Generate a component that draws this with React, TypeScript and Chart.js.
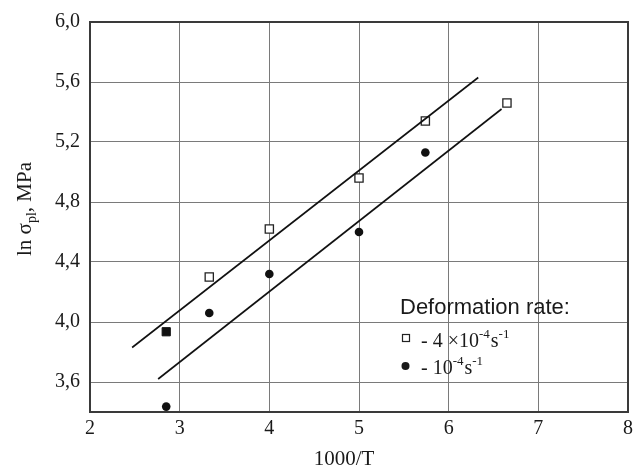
import { useEffect, useRef } from "react";
import { Chart, registerables } from "chart.js";

Chart.register(...registerables);

// ---- data ----
const xTicks = [2, 3, 4, 5, 6, 7, 8];
const yTicks = [3.6, 4.0, 4.4, 4.8, 5.2, 5.6, 6.0];

const openSquareX = [3.33, 4.0, 5.0, 5.74, 6.65];
const openSquareY = [4.30, 4.62, 4.96, 5.34, 5.46];

const filledSquareX = [2.85];
const filledSquareY = [3.935];

const circleX = [2.85, 3.33, 4.0, 5.0, 5.74];
const circleY = [3.436, 4.06, 4.32, 4.60, 5.13];

const upperFitX = [2.47, 6.33];
const upperFitY = [3.83, 5.63];
const lowerFitX = [2.76, 6.59];
const lowerFitY = [3.62, 5.42];

const legendTitle = "Deformation rate:";
// alternating normal / superscript runs
const legendRate1 = ["- 4 \u00d710", "-4", "s", "-1"];
const legendRate2 = ["- 10", "-4", "s", "-1"];

const xTitle = "1000/T";
const yTitleParts = ["ln \u03c3", "pl", ", MPa"];

const SERIF = '"Liberation Serif", "Times New Roman", serif';
const SANS = '"Liberation Sans", Arial, sans-serif';

const pts = (xs: number[], ys: number[]) => xs.map((x, i) => ({ x, y: ys[i] }));

const decorPlugin = {
  id: "decor",
  beforeDraw(chart: any) {
    const ctx = chart.ctx;
    ctx.save();
    ctx.fillStyle = "#ffffff";
    ctx.fillRect(0, 0, chart.width, chart.height);
    ctx.restore();
  },
  afterDraw(chart: any) {
    const ctx = chart.ctx;
    const a = chart.chartArea;
    ctx.save();
    // frame
    ctx.strokeStyle = "#3a3a3a";
    ctx.lineWidth = 2;
    ctx.strokeRect(a.left, a.top, a.right - a.left, a.bottom - a.top);

    ctx.fillStyle = "#1a1a1a";
    // x title
    ctx.font = "21px " + SERIF;
    ctx.textAlign = "center";
    ctx.textBaseline = "alphabetic";
    ctx.fillText(xTitle, 344, 465);

    // y title (rotated with subscript)
    ctx.save();
    ctx.translate(31, 209);
    ctx.rotate(-Math.PI / 2);
    ctx.textAlign = "left";
    const big = "21px " + SERIF;
    const small = "14px " + SERIF;
    ctx.font = big;
    const w0 = ctx.measureText(yTitleParts[0]).width;
    const w2 = ctx.measureText(yTitleParts[2]).width;
    ctx.font = small;
    const w1 = ctx.measureText(yTitleParts[1]).width;
    let x = -(w0 + w1 + w2) / 2;
    ctx.font = big;
    ctx.fillText(yTitleParts[0], x, 0);
    x += w0;
    ctx.font = small;
    ctx.fillText(yTitleParts[1], x, 5);
    x += w1;
    ctx.font = big;
    ctx.fillText(yTitleParts[2], x, 0);
    ctx.restore();

    // legend
    ctx.textAlign = "left";
    ctx.font = "22px " + SANS;
    ctx.fillText(legendTitle, 400, 314);

    const drawRun = (parts: string[], x0: number, base: number) => {
      let xx = x0;
      parts.forEach((p, i) => {
        const sup = i % 2 === 1;
        ctx.font = (sup ? "13px " : "20px ") + SERIF;
        ctx.fillText(p, xx, sup ? base - 9 : base);
        xx += ctx.measureText(p).width + (sup ? 1 : 0);
      });
    };
    // square marker
    ctx.strokeStyle = "#222";
    ctx.lineWidth = 1.2;
    ctx.fillStyle = "#fff";
    ctx.fillRect(402.5, 334.5, 7, 7);
    ctx.strokeRect(402.5, 334.5, 7, 7);
    ctx.fillStyle = "#1a1a1a";
    drawRun(legendRate1, 421, 347);
    // circle marker
    ctx.beginPath();
    ctx.arc(405.5, 366, 4, 0, Math.PI * 2);
    ctx.fill();
    drawRun(legendRate2, 421, 374);
    ctx.restore();
  },
};

export default function App() {
  const ref = useRef<HTMLCanvasElement | null>(null);
  useEffect(() => {
    if (!ref.current) return;
    const chart = new Chart(ref.current, {
      type: "scatter",
      data: {
        datasets: [
          {
            label: "upper fit",
            data: pts(upperFitX, upperFitY),
            showLine: true,
            borderColor: "#111",
            borderWidth: 1.6,
            pointRadius: 0,
          },
          {
            label: "lower fit",
            data: pts(lowerFitX, lowerFitY),
            showLine: true,
            borderColor: "#111",
            borderWidth: 1.6,
            pointRadius: 0,
          },
          {
            label: "4e-4",
            data: pts(openSquareX, openSquareY),
            pointStyle: "rect",
            pointRadius: 5.8,
            backgroundColor: "#ffffff",
            borderColor: "#222",
            borderWidth: 1.3,
          },
          {
            label: "4e-4 filled",
            data: pts(filledSquareX, filledSquareY),
            pointStyle: "rect",
            pointRadius: 5.8,
            backgroundColor: "#111",
            borderColor: "#111",
            borderWidth: 1,
          },
          {
            label: "1e-4",
            data: pts(circleX, circleY),
            pointStyle: "circle",
            pointRadius: 4.3,
            backgroundColor: "#111",
            borderColor: "#111",
            borderWidth: 0,
          },
        ],
      },
      options: {
        responsive: false,
        animation: false,
        events: [],
        layout: { padding: { left: 0, top: 17, right: 13, bottom: 0 } },
        plugins: { legend: { display: false }, tooltip: { enabled: false } },
        scales: {
          x: {
            type: "linear",
            min: 2,
            max: 8,
            afterBuildTicks: (s: any) => {
              s.ticks = xTicks.map((v) => ({ value: v }));
            },
            afterFit: (s: any) => {
              s.height = 56;
            },
            grid: { color: "#7a7a7a", lineWidth: 1, drawTicks: false },
            border: { display: true, color: "#3a3a3a", width: 2 },
            ticks: {
              color: "#1a1a1a",
              font: { family: SERIF, size: 20 },
              padding: 5,
              maxRotation: 0,
              callback: (v: any) => String(v),
            },
          },
          y: {
            type: "linear",
            min: 3.4,
            max: 6.0,
            afterBuildTicks: (s: any) => {
              s.ticks = yTicks.map((v) => ({ value: v }));
            },
            afterFit: (s: any) => {
              s.width = 90;
            },
            grid: { color: "#7a7a7a", lineWidth: 1, drawTicks: false },
            border: { display: true, color: "#3a3a3a", width: 2 },
            ticks: {
              color: "#1a1a1a",
              font: { family: SERIF, size: 20 },
              padding: 10,
              callback: (v: any) => Number(v).toFixed(1).replace(".", ","),
            },
          },
        },
      },
      plugins: [decorPlugin],
    });
    return () => chart.destroy();
  }, []);
  return (
    <div style={{ position: "absolute", left: 0, top: 0, width: 641, height: 468 }}>
      <canvas ref={ref} width={641} height={468} />
    </div>
  );
}
